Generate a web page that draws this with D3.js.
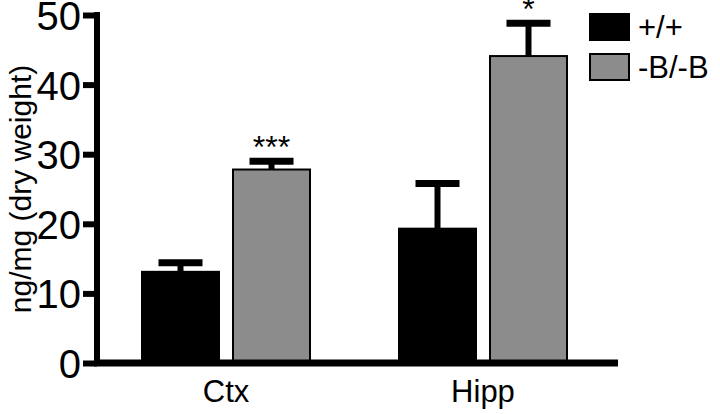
<!DOCTYPE html>
<html>
<head>
<script src="https://cdn.jsdelivr.net/npm/d3@7"></script>
<style>body{margin:0;background:#fff}</style>
</head>
<body>
<svg></svg>
<script>
let width = 720, height = 414;

// Data
let regions = ["Ctx", "Hipp"];
let genotypes = ["+/+", "-B/-B"];
let meanWT = [13.1, 19.3];
let semWT = [1.3, 6.5];
let meanKO = [27.8, 44.1];
let semKO = [1.2, 4.7];
let stars = ["***", "*"];
let yTicks = [0, 10, 20, 30, 40, 50];

let svg = d3.select("svg").attr("width", width).attr("height", height);
let font = "Liberation Sans, Arial, sans-serif";

let y = d3.scaleLinear().domain([0, 50]).range([363, 15]);
let x = d3.scalePoint().domain(regions).range([226, 483]);
let color = d3.scaleOrdinal().domain(genotypes).range(["#000", "#8c8c8c"]);

let barW = 77, gap = 14;
let rows = [];
regions.forEach((r, i) => {
    rows.push({r: r, g: genotypes[0], m: meanWT[i], s: semWT[i], off: -gap / 2 - barW, star: ""});
    rows.push({r: r, g: genotypes[1], m: meanKO[i], s: semKO[i], off: gap / 2, star: stars[i]});
});
let cx = r => x(r);

// Error bars (behind the bars)
let eb = svg.append("g").selectAll("g").data(rows).enter().append("g");
eb.append("line")
    .attr("x1", d => cx(d.r) + d.off + barW / 2).attr("x2", d => cx(d.r) + d.off + barW / 2)
    .attr("y1", d => y(d.m)).attr("y2", d => y(d.m + d.s))
    .attr("stroke", "#000").attr("stroke-width", 6);
eb.append("line")
    .attr("x1", d => cx(d.r) + d.off + barW / 2 - 22).attr("x2", d => cx(d.r) + d.off + barW / 2 + 22)
    .attr("y1", d => y(d.m + d.s)).attr("y2", d => y(d.m + d.s))
    .attr("stroke", "#000").attr("stroke-width", 7);

// Bars
svg.append("g").selectAll("rect").data(rows).enter().append("rect")
    .attr("x", d => cx(d.r) + d.off)
    .attr("width", barW)
    .attr("y", d => y(d.m))
    .attr("height", d => y(0) - y(d.m))
    .attr("fill", d => color(d.g))
    .attr("stroke", "#000").attr("stroke-width", 2);

// Significance stars
svg.append("g").selectAll("text").data(rows.filter(d => d.star)).enter().append("text")
    .attr("x", d => cx(d.r) + d.off + barW / 2)
    .attr("y", d => y(d.m + d.s) - 3)
    .attr("text-anchor", "middle")
    .style("font-family", font).style("font-size", "32px")
    .text(d => d.star);

// Axes
let yAxis = svg.append("g").attr("transform", "translate(97,0)")
    .call(d3.axisLeft(y).tickValues(yTicks).tickSize(14).tickPadding(2));
yAxis.select(".domain").attr("stroke-width", 6).attr("d", "M0," + (y(0) + 3) + "V" + (y(50) - 3));
yAxis.selectAll(".tick line").attr("stroke-width", 6);
yAxis.selectAll(".tick text").style("font-family", font).style("font-size", "40px").attr("dy", "0.36em");

svg.append("line").attr("x1", 94).attr("x2", 618).attr("y1", y(0)).attr("y2", y(0))
    .attr("stroke", "#000").attr("stroke-width", 7);

svg.append("g").selectAll("text").data(regions).enter().append("text")
    .attr("x", d => cx(d)).attr("y", 402)
    .attr("text-anchor", "middle")
    .style("font-family", font).style("font-size", "31px")
    .text(d => d);

svg.append("text")
    .attr("transform", "translate(31," + (y(25)) + ") rotate(-90)")
    .attr("text-anchor", "middle")
    .style("font-family", font).style("font-size", "30px")
    .text("ng/mg (dry weight)");

// Legend
let lg = svg.append("g").selectAll("g").data(genotypes).enter().append("g")
    .attr("transform", (d, i) => "translate(590," + (14 + i * 40) + ")");
lg.append("rect").attr("width", 39).attr("height", 26)
    .attr("fill", d => color(d)).attr("stroke", "#000").attr("stroke-width", 2);
lg.append("text").attr("x", 48).attr("y", 13).attr("dy", "0.36em")
    .style("font-family", font).style("font-size", "31px")
    .text(d => d);
</script>
</body>
</html>
